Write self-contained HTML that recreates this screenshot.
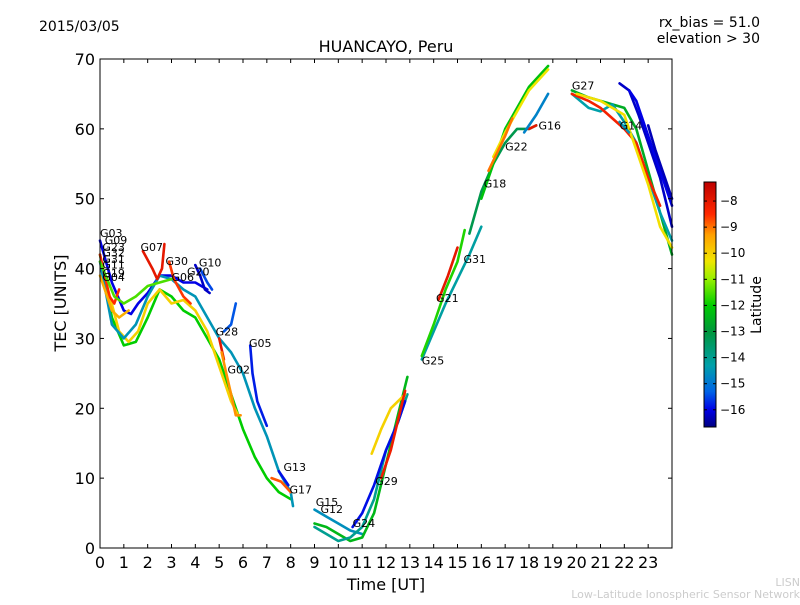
<!DOCTYPE html>
<html><head><meta charset="utf-8"><style>
body{margin:0;background:#fff;}
svg text{font-family:"DejaVu Sans","Liberation Sans",sans-serif;}
</style></head><body>
<svg id="chart" width="800" height="600" xmlns="http://www.w3.org/2000/svg">
<rect width="800" height="600" fill="#fff"/>
<text x="39" y="31" font-size="14">2015/03/05</text>
<text x="760" y="27" font-size="14" text-anchor="end">rx_bias = 51.0</text>
<text x="760" y="43" font-size="14" text-anchor="end">elevation &gt; 30</text>
<text x="386" y="52" font-size="16" text-anchor="middle">HUANCAYO, Peru</text>
<g id="tracks"></g>
<g id="labels"></g>
<rect x="100" y="59" width="572" height="489" fill="none" stroke="#000" stroke-width="1"/>
<g id="xaxis"></g>
<g id="yaxis"></g>
<text x="386" y="590" font-size="16" text-anchor="middle">Time [UT]</text>
<text transform="translate(66,303) rotate(-90)" font-size="16" text-anchor="middle">TEC [UNITS]</text>
<defs><linearGradient id="cbg" x1="0" y1="1" x2="0" y2="0"></linearGradient></defs>
<rect x="704" y="182" width="12" height="245" fill="url(#cbg)" stroke="#000" stroke-width="1"/>
<g id="cbticks"></g>
<text transform="translate(761,305) rotate(-90)" font-size="14" text-anchor="middle">Latitude</text>
<text x="800" y="586" font-size="11" fill="#ccc" text-anchor="end">LISN</text>
<text x="800" y="598" font-size="11" fill="#ccc" text-anchor="end">Low-Latitude Ionospheric Sensor Network</text>
</svg>
<script>
const xTicks=[0,1,2,3,4,5,6,7,8,9,10,11,12,13,14,15,16,17,18,19,20,21,22,23];
const yTicks=[0,10,20,30,40,50,60,70];
const cbTicks=[-8,-9,-10,-11,-12,-13,-14,-15,-16];
const trackLat=[-16,-12,-10,-14.5,-8.5,-11.5,-8,-8.6,-16.2,-15.5,-8,-9.2,-15.8,-15.4,-8.8,-15.9,-14.6,-12.4,-14,-15.9,-10,-8.2,-14.2,-11.8,-8,-13.2,-12.2,-10.3,-9,-8,-14.8,-12.6,-14.3,-8.3,-10.2,-16.2,-16,-16.3,-14.5,-9.5];
const trackPts=[
[[0,44],[0.5,38],[1,34],[1.3,33.5],[1.6,35],[2,36.5],[2.5,39],[3,39],[3.5,38],[4,38],[4.5,37]],
[[0,42],[0.5,33],[1,29],[1.5,29.5],[2,33],[2.5,37],[3,36],[3.5,34],[4,33],[4.5,30],[5,27],[5.5,22],[6,17],[6.5,13],[7,10],[7.5,8],[8,7]],
[[0.1,40],[0.8,31],[1.2,29.5],[1.6,31],[2,35],[2.5,37],[3,35],[3.5,35.5],[4,34],[4.5,31],[5,26],[5.5,21],[5.8,19]],
[[0,41],[0.5,32],[1,30],[1.5,32],[2,36],[2.5,39],[3,38.5],[3.5,37],[4,36],[4.5,33],[5,30],[5.5,28],[6,25],[6.5,20],[7,16],[7.5,11],[8,8],[8.1,6]],
[[0,42],[0.4,36],[0.6,35],[0.8,37]],
[[0,41],[0.6,36],[1,35],[1.5,36],[2,37.5],[2.5,38],[3,38.5]],
[[1.8,42.5],[2.2,40],[2.4,38.5],[2.6,40],[2.7,43.5]],
[[2.9,41],[3.1,38.5],[3.5,36],[3.8,35]],
[[4,40.5],[4.2,39],[4.4,37],[4.6,36.5]],
[[4.2,40],[4.5,38],[4.7,37]],
[[5,30],[5.2,27]],
[[5.1,28],[5.3,25],[5.5,22],[5.7,19],[5.9,19]],
[[6.3,29],[6.4,25],[6.6,21],[7,17.5]],
[[5.2,31],[5.5,32],[5.7,35]],
[[7.2,10],[7.6,9.5],[8,8]],
[[7.5,11],[7.7,10],[7.9,9]],
[[9,5.5],[9.5,4.5],[10,3.5],[10.5,2.5],[11,2]],
[[9,3.5],[9.5,3],[10,2],[10.5,1],[11,1.5],[11.5,5],[12,12],[12.5,19],[12.9,24.5]],
[[9,3],[9.5,2],[10,1],[10.5,1.5],[11,3],[11.5,7],[12,14],[12.5,18],[12.9,22]],
[[10.6,3],[11,5],[11.5,9],[12,14],[12.5,18],[12.8,21]],
[[11.4,13.5],[11.8,17],[12.2,20],[12.8,22]],
[[11.8,10],[12.2,14],[12.8,22.5]],
[[13.5,27],[14,31],[14.5,35],[15,38.5],[15.5,42],[16,46]],
[[13.5,27.5],[14,32],[14.5,37],[15,41],[15.3,45.5]],
[[14.2,35.5],[14.6,39],[15,43]],
[[15.5,45],[16,51],[16.5,55],[17,58],[17.5,60],[18,60],[18.3,60.5]],
[[16,50],[16.5,55],[17,60],[17.5,63],[18,66],[18.8,69]],
[[16.5,56],[17,59.5],[17.5,62.5],[18,65.5],[18.8,68.5]],
[[16.3,54],[17,59],[17.3,61.5]],
[[18,60],[18.3,60.5]],
[[17.8,59.5],[18.3,62],[18.8,65]],
[[19.8,65.5],[20.5,64.5],[21,64],[21.5,63.5],[22,63],[22.5,60],[23,54],[23.5,48],[24,42]],
[[19.8,65],[20.5,63],[21,62.5],[21.5,63.5],[22,61],[22.5,58],[23,53],[23.5,48],[24,44]],
[[19.8,65],[20.5,64],[21,63],[22,60],[22.5,58],[23,53],[23.5,49]],
[[20,65],[21,64],[22,62],[22.5,57],[23,52],[23.5,46],[24,43]],
[[21.8,66.5],[22.2,65.5],[22.6,62],[23,58],[23.5,53],[24,46]],
[[22.2,65.5],[22.5,64],[23,59],[23.5,54],[24,49]],
[[23,60.5],[23.3,57],[23.7,53],[24,50]],
[[21.8,61],[22.2,59.5]],
[[0,39],[0.3,36],[0.5,34],[0.8,33],[1.2,34]]
];
const labelNames=["G03","G09","G23","G32","G31","G11","G19","G04","G07","G30","G06","G20","G10","G28","G05","G02","G13","G17","G15","G12","G24","G29","G25","G21","G31","G18","G22","G16","G27","G14"];
const labelT=[0,0.2,0.1,0.1,0.1,0.1,0.1,0.1,1.7,2.75,3.0,3.65,4.15,4.85,6.25,5.35,7.7,7.95,9.05,9.25,10.6,11.55,13.5,14.1,15.25,16.1,17.0,18.4,19.8,21.8];
const labelV=[44.5,43.5,42.5,41.7,40.8,40,38.8,38.2,42.5,40.5,38.2,39,40.3,30.4,28.8,25,11,7.8,6,5,3,9,26.3,35.2,40.8,51.6,56.9,59.9,65.6,59.9];
const X=t=>100+t*572/24, Y=v=>548-v*489/70;
const stops=[[-16.66,[0,0,128]],[-16,[0,0,230]],[-15.3,[0,100,230]],[-14.3,[0,160,170]],[-13,[0,150,60]],[-12,[0,205,0]],[-11,[150,240,0]],[-10.3,[240,230,0]],[-9.3,[255,160,0]],[-8.5,[255,40,0]],[-7.27,[190,0,0]]];
function col(l){for(let i=0;i<stops.length-1;i++){const a=stops[i],b=stops[i+1];if(l<=b[0]){const f=Math.max(0,(l-a[0])/(b[0]-a[0]));return 'rgb('+a[1].map((c,k)=>Math.round(c+(b[1][k]-c)*f)).join(',')+')';}}return 'rgb(190,0,0)';}
const NS='http://www.w3.org/2000/svg';
function mk(tag,attrs,parent){const e=document.createElementNS(NS,tag);for(const k in attrs)e.setAttribute(k,attrs[k]);parent.appendChild(e);return e;}
const g=document.getElementById('tracks');
trackPts.forEach((pts,i)=>{const p=mk('polyline',{points:pts.map(q=>X(q[0]).toFixed(1)+','+Y(q[1]).toFixed(1)).join(' '),fill:'none',stroke:col(trackLat[i]),'stroke-width':2.6,'stroke-linejoin':'round','stroke-linecap':'round'},g);

});
const lg=document.getElementById('labels');
labelNames.forEach((n,i)=>{const t=mk('text',{x:X(labelT[i]),y:Y(labelV[i]),'font-size':11},lg);t.textContent=n;

});
const xa=document.getElementById('xaxis');
xTicks.forEach(v=>{mk('line',{x1:X(v),x2:X(v),y1:548,y2:544,stroke:'#000'},xa);mk('line',{x1:X(v),x2:X(v),y1:59,y2:63,stroke:'#000'},xa);
const t=mk('text',{x:X(v),y:568,'font-size':16,'text-anchor':'middle'},xa);t.textContent=v;

});
const ya=document.getElementById('yaxis');
yTicks.forEach(v=>{mk('line',{x1:100,x2:104,y1:Y(v),y2:Y(v),stroke:'#000'},ya);mk('line',{x1:668,x2:672,y1:Y(v),y2:Y(v),stroke:'#000'},ya);
const t=mk('text',{x:95,y:Y(v)+6,'font-size':16,'text-anchor':'end'},ya);t.textContent=v;

});
const grad=document.getElementById('cbg');
stops.forEach(s=>{mk('stop',{offset:((s[0]+16.66)/9.39).toFixed(3),'stop-color':'rgb('+s[1].join(',')+')'},grad);});
const cb=document.getElementById('cbticks');
const CY=l=>427-(l+16.66)*245/9.39;
cbTicks.forEach(v=>{mk('line',{x1:704,x2:707,y1:CY(v),y2:CY(v),stroke:'#000'},cb);mk('line',{x1:713,x2:716,y1:CY(v),y2:CY(v),stroke:'#000'},cb);
const t=mk('text',{x:720,y:CY(v)+4,'font-size':12},cb);t.textContent='\u2212'+Math.abs(v);

});
</script>
</body></html>
